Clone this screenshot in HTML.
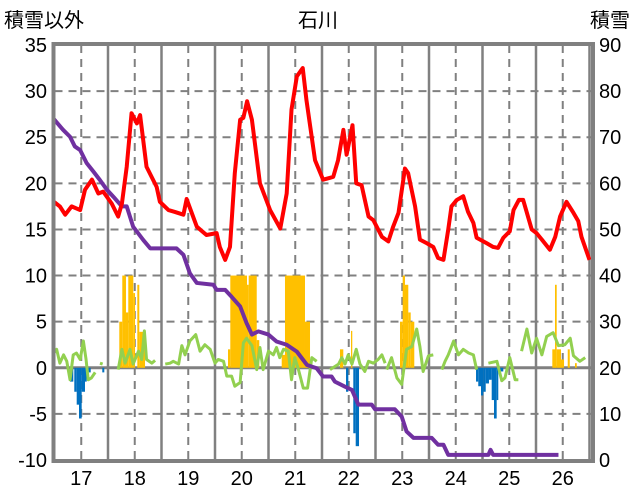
<!DOCTYPE html>
<html><head><meta charset="utf-8"><style>
body{margin:0;background:#fff;}
svg{display:block;font-family:"Liberation Sans","Noto Sans CJK JP",sans-serif;}
</style></head><body>
<svg id="chart" width="636" height="501" viewBox="0 0 636 501" xmlns="http://www.w3.org/2000/svg">
<text x="318" y="27" font-size="20" text-anchor="middle" fill="#000">石川</text>
<text x="4" y="27" font-size="20" fill="#000">積雪以外</text>
<text x="590" y="27" font-size="20" fill="#000">積雪</text>
<g id="grid"></g><g id="bars"></g><g id="lines"></g><g id="axes"></g>
</svg>
<script>
const leftTicks=[-10,-5,0,5,10,15,20,25,30,35];
const rightTicks=[0,10,20,30,40,50,60,70,80,90];
const yearLabels=[17,18,19,20,21,22,23,24,25,26];
const redT=[16.49,16.60,16.70,16.82,16.98,17.07,17.20,17.32,17.41,17.57,17.69,17.76,17.85,17.94,18.04,18.10,18.22,18.41,18.47,18.63,18.75,18.91,18.97,19.16,19.34,19.53,19.59,19.69,19.78,19.87,19.97,20.03,20.10,20.19,20.34,20.53,20.72,20.84,20.93,21.03,21.14,21.21,21.37,21.52,21.65,21.71,21.80,21.90,21.96,22.07,22.14,22.24,22.37,22.46,22.62,22.74,22.83,22.93,23.05,23.11,23.24,23.33,23.46,23.58,23.67,23.77,23.86,23.92,24.02,24.14,24.23,24.33,24.39,24.58,24.70,24.79,24.89,25.01,25.08,25.18,25.26,25.42,25.51,25.61,25.76,25.86,25.95,26.07,26.20,26.29,26.35,26.50];
const redV=[18.0,17.5,16.6,17.5,17.1,19.3,20.4,18.9,19.1,17.8,16.4,17.8,21.8,27.6,26.5,27.4,21.8,19.6,18.0,17.1,16.9,16.6,18.3,15.3,14.4,14.6,13.1,11.7,13.1,21.1,26.9,27.1,28.9,26.9,20.0,17.1,15.1,18.9,28.0,31.6,32.5,29.0,22.5,20.4,20.6,20.7,22.5,25.8,23.1,26.3,20.0,19.8,16.4,16.0,14.2,13.7,15.3,16.8,21.6,21.1,17.5,13.9,13.5,13.1,11.9,11.7,15.0,17.5,18.2,18.6,16.9,15.7,14.1,13.5,13.1,13.0,14.1,14.8,17.1,18.2,18.2,15.0,14.6,13.9,12.8,14.2,16.4,18.0,16.8,15.9,14.2,11.7];
const snowT=[16.49,16.66,16.79,16.88,16.98,17.10,17.23,17.35,17.48,17.60,17.76,17.85,17.97,18.16,18.29,18.78,18.91,19.03,19.16,19.47,19.53,19.69,19.81,19.97,20.09,20.19,20.31,20.50,20.65,20.84,21.03,21.22,21.40,21.52,21.68,21.74,21.93,22.06,22.18,22.43,22.49,22.86,22.99,23.08,23.21,23.55,23.67,23.77,23.86,24.61,24.65,24.70,25.92];
const snowV=[73.9,71.6,70.1,68.0,67.2,64.4,62.5,60.7,58.6,57.1,55.0,55.0,50.6,47.7,45.9,45.9,44.5,40.5,38.4,38.0,36.9,36.9,35.4,33.3,29.7,27.2,27.9,27.2,25.7,25.0,23.5,20.6,19.9,18.1,18.1,17.0,15.9,15.2,12.0,12.0,11.0,11.0,9.4,6.2,4.8,4.8,3.3,3.3,1.1,1.1,2.2,1.1,1.1];
const greenSegT=[
[16.49,16.54,16.60,16.67,16.73,16.79,16.85,16.91,16.98,17.04,17.09,17.13,17.19,17.26],
[17.35,17.40],
[17.69,17.76,17.82,17.91,17.97,18.07,18.13,18.18,18.22,18.32,18.38],
[18.57,18.66,18.72,18.82,18.88,18.94,19.03,19.14,19.22,19.31,19.41,19.50,19.56,19.66,19.72,19.81,19.87,19.97,20.03,20.09,20.19,20.28,20.34,20.40,20.50,20.59,20.65,20.71,20.78,20.87,20.93,20.99,21.06,21.15,21.23,21.31,21.40],
[21.65,21.81,21.87,21.93,21.99,22.06,22.14,22.21,22.30,22.37,22.46,22.55,22.62,22.68],
[22.71,22.80,22.90,22.99,23.08,23.18,23.27,23.33,23.39,23.49,23.58],
[23.74,23.80,23.86,23.96,24.05,24.14,24.24,24.33,24.39],
[24.61,24.77,24.86,24.92,25.01,25.11,25.17],
[25.23,25.33,25.42,25.51,25.61,25.70,25.82,25.92,26.04,26.14,26.20,26.32,26.42]];
const greenSegV=[
[1.6,2.0,0.5,1.4,0.7,-1.3,1.4,1.6,0.9,2.9,0.9,-1.3,-1.1,-0.5],
[0.5,0.4],
[-0.2,2.0,0.5,2.0,0.4,1.8,0.9,4.0,0.9,0.5,0.8],
[0.4,0.5,0.7,0.4,2.4,1.4,2.9,3.6,1.8,2.5,2.0,0.5,0.9,0.7,-0.9,-0.9,-2.0,-1.6,2.7,3.2,2.4,-0.2,2.2,-0.2,1.8,1.4,2.2,1.1,2.0,1.8,-1.3,1.1,-0.2,-2.2,-2.2,1.1,0.7],
[-0.2,0.4,1.1,0.4,1.4,0.4,2.0,0.4,-0.4,0.7,0.5,0.9,1.4,0.5],
[-0.2,1.1,-1.1,-1.8,2.0,2.3,4.2,2.3,-0.4,1.3,1.4],
[-0.2,0.7,1.4,2.9,1.4,2.0,1.6,1.4,-0.2],
[0.5,0.7,-1.4,-1.1,1.1,-1.3,-1.3],
[1.8,4.2,1.6,3.2,1.4,3.4,3.8,2.4,2.5,3.2,1.3,0.7,1.1]];
const barStart=[17.711,17.767,17.836,17.879,17.973,18.048,18.085,19.743,19.786,20.098,20.130,20.280,20.747,20.808,21.182,21.836,22.042,22.958,23.008,23.051,23.113,23.158,25.805,25.855,25.887,25.967,26.093,26.229,
16.790,16.870,16.915,16.958,17.008,17.070,17.132,17.393,21.949,22.085,22.130,24.379,24.421,24.472,24.515,24.560,24.621,24.672,24.715,24.765,24.795];
const barEnd=[17.767,17.836,17.879,17.973,18.005,18.085,18.192,19.786,20.098,20.130,20.280,20.328,20.808,21.182,21.276,21.898,22.066,23.008,23.051,23.113,23.158,23.225,25.868,25.887,25.967,26.024,26.131,26.262,
16.851,16.915,16.958,17.008,17.070,17.102,17.177,17.431,21.992,22.130,22.192,24.421,24.472,24.515,24.560,24.621,24.672,24.715,24.765,24.795,24.889];
const barVal=[5,10,6,10,8.1,9,3.9,2,10,9,10,3,1.4,10,5,2,4,5,10,9,6,5,2,9,2,0.9,2,0.5,
-1.5,-2.6,-4.0,-5.5,-2.6,-1.5,-0.5,-0.5,-2.6,-7.1,-8.5,-1.5,-2.0,-3.0,-2.6,-1.7,-1.3,-3.5,-5.5,-3.5,-0.4];

const PL=54.5,PR=592,PT=45,PB=460;
const xs=t=>PL+(t-16.5)*53.5;
const yL=v=>PB-(v+10)*(PB-PT)/45;
const yR=v=>PB-v*(PB-PT)/90;
const NS='http://www.w3.org/2000/svg';
function mk(tag,parent,attrs){const e=document.createElementNS(NS,tag);for(const k in attrs)e.setAttribute(k,attrs[k]);parent.appendChild(e);return e;}
const grid=document.getElementById('grid'),bars=document.getElementById('bars'),lines=document.getElementById('lines'),axes=document.getElementById('axes');
leftTicks.forEach((v,i)=>{
  const y=yL(v);
  if(v!==-10&&v!==35){const l=mk('line',grid,{x1:PL,x2:PR,y1:y,y2:y,stroke:'#808080','stroke-width':2,'stroke-dasharray':v===0?'':'8,6'});
  
  }
  const t=mk('text',axes,{x:47,y:y+7,'font-size':20,'text-anchor':'end',fill:'#000'});t.textContent=v;
  
  
});
rightTicks.forEach(v=>{
  const t=mk('text',axes,{x:599,y:yR(v)+7,'font-size':20,fill:'#000'});t.textContent=v;
  
  
});
yearLabels.forEach(yr=>{
  const x=xs(yr);
  const d=mk('line',grid,{x1:x,x2:x,y1:PT,y2:PB,stroke:'#808080','stroke-width':2,'stroke-dasharray':'8,6'});
  
  
  const xb=xs(yr+0.5);
  if(xb<PR-2){const s=mk('line',grid,{x1:xb,x2:xb,y1:PT,y2:PB,stroke:'#808080','stroke-width':2.5});
  
  }
  const t=mk('text',axes,{x:x,y:485,'font-size':20,'text-anchor':'middle',fill:'#000'});t.textContent=yr;
  
  
});
barVal.forEach((v,i)=>{
  const x0=xs(barStart[i]),x1=xs(barEnd[i]),y0=yL(0),y1=yL(v);
  const r=mk('rect',bars,{x:x0,width:Math.max(x1-x0,1),y:Math.min(y0,y1),height:Math.abs(y1-y0),fill:v>=0?'#FFC000':'#0070C0'});
  
  
});
const zero=mk('line',grid,{x1:PL,x2:PR,y1:yL(0),y2:yL(0),stroke:'#808080','stroke-width':3});


greenSegT.forEach((ts,k)=>{
  const p=mk('polyline',lines,{points:ts.map((t,i)=>xs(t)+','+yL(greenSegV[k][i])).join(' '),fill:'none',stroke:'#92D050','stroke-width':3,'stroke-linejoin':'round'});
  
  
});
const pr=mk('polyline',lines,{points:snowT.map((t,i)=>xs(t)+','+yR(snowV[i])).join(' '),fill:'none',stroke:'#7030A0','stroke-width':4,'stroke-linejoin':'round'});


const rl=mk('polyline',lines,{points:redT.map((t,i)=>xs(t)+','+yL(redV[i])).join(' '),fill:'none',stroke:'#FF0000','stroke-width':4,'stroke-linejoin':'round'});


const fr=mk('rect',axes,{x:PL-1,y:PT-1,width:PR-PL+2,height:PB-PT+2,fill:'none',stroke:'#808080','stroke-width':4});


</script>
</body></html>
